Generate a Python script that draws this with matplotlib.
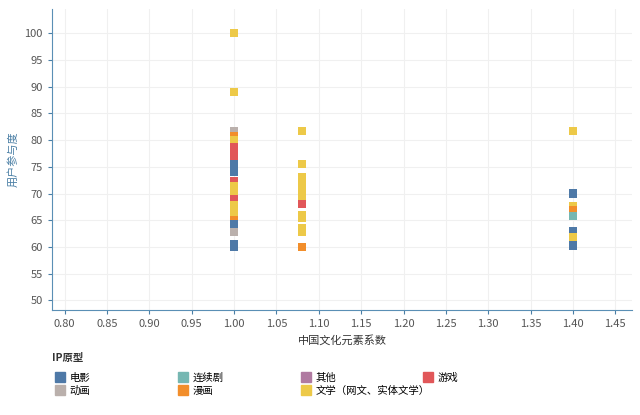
import matplotlib.pyplot as plt
from matplotlib.lines import Line2D

plt.rcParams["font.family"] = ["Noto Sans CJK SC", "DejaVu Sans"]

categories = ["电影", "连续剧", "其他", "游戏", "动画", "漫画", "文学（网文、实体文学）"]
colors = ["#4e79a7", "#76b7b2", "#b07aa1", "#e15759", "#bab0ac", "#f28e2b", "#edc948"]

# (x, y, category)
x_vals = [1.00] * 21 + [1.08] * 12 + [1.40] * 8
y_vals = [100, 89, 81.7, 80.8, 80, 78.6, 77, 75.5, 74, 72.4, 71.3, 70, 68.9, 67.8, 66.5, 65.5,
          65, 64.2, 62.8, 60.6, 60,
          81.7, 75.5, 73, 71.3, 70, 69, 68, 66, 65.5, 63.6, 62.8, 60,
          81.7, 70, 67.7, 66.8, 65.8, 63, 61.8, 60.3]
cat_vals = ["文学（网文、实体文学）", "文学（网文、实体文学）", "动画", "漫画", "文学（网文、实体文学）",
            "游戏", "游戏", "电影", "电影", "游戏", "文学（网文、实体文学）", "文学（网文、实体文学）",
            "游戏", "文学（网文、实体文学）", "文学（网文、实体文学）", "文学（网文、实体文学）",
            "漫画", "电影", "动画", "电影", "电影",
            "文学（网文、实体文学）", "文学（网文、实体文学）", "文学（网文、实体文学）",
            "文学（网文、实体文学）", "文学（网文、实体文学）", "文学（网文、实体文学）", "游戏",
            "文学（网文、实体文学）", "文学（网文、实体文学）", "文学（网文、实体文学）",
            "文学（网文、实体文学）", "漫画",
            "文学（网文、实体文学）", "电影", "文学（网文、实体文学）", "漫画", "连续剧", "电影",
            "文学（网文、实体文学）", "电影"]

x_ticks = [0.80, 0.85, 0.90, 0.95, 1.00, 1.05, 1.10, 1.15, 1.20, 1.25, 1.30, 1.35, 1.40, 1.45]
y_ticks = [50, 55, 60, 65, 70, 75, 80, 85, 90, 95, 100]

cmap = dict(zip(categories, colors))
fig = plt.figure(figsize=(6.4, 4.15), dpi=100)
ax = fig.add_axes([0.081, 0.253, 0.907, 0.725])
ax.scatter(x_vals, y_vals, c=[cmap[c] for c in cat_vals], marker="s", s=36, linewidths=0)
ax.set_xlim(0.785, 1.47)
ax.set_ylim(48.2, 104.5)
ax.set_xticks(x_ticks)
ax.set_xticklabels([f"{t:.2f}" for t in x_ticks])
ax.set_yticks(y_ticks)
ax.grid(True, color="#f0f0f0", linewidth=0.8)
ax.set_axisbelow(True)
for s in ["top", "right"]:
    ax.spines[s].set_visible(False)
for s in ["left", "bottom"]:
    ax.spines[s].set_color("#5a8fb5")
ax.tick_params(colors="#4a7fa5", labelsize=8, length=3)
ax.tick_params(axis="both", labelcolor="#555555")
ax.set_xlabel("中国文化元素系数", fontsize=8, color="#333333")
ax.set_ylabel("用户参与度", fontsize=8, color="#4a7fa5")

fig.text(0.081, 0.13, "IP原型", fontsize=7.5, fontweight="bold", color="#333333")
# one legend per column, row-major order like the original
col_x = [0.07, 0.262, 0.454, 0.645]
for col in range(4):
    idx = [i for i in (col, col + 4) if i < len(categories)]
    handles = [Line2D([], [], marker="s", linestyle="", color=colors[i], markersize=7) for i in idx]
    fig.legend(handles, [categories[i] for i in idx], loc="upper left",
               bbox_to_anchor=(col_x[col], 0.125), frameon=False, fontsize=7.5,
               handletextpad=0.3, labelspacing=0.3, handlelength=1.2)
fig.savefig("out.png")
